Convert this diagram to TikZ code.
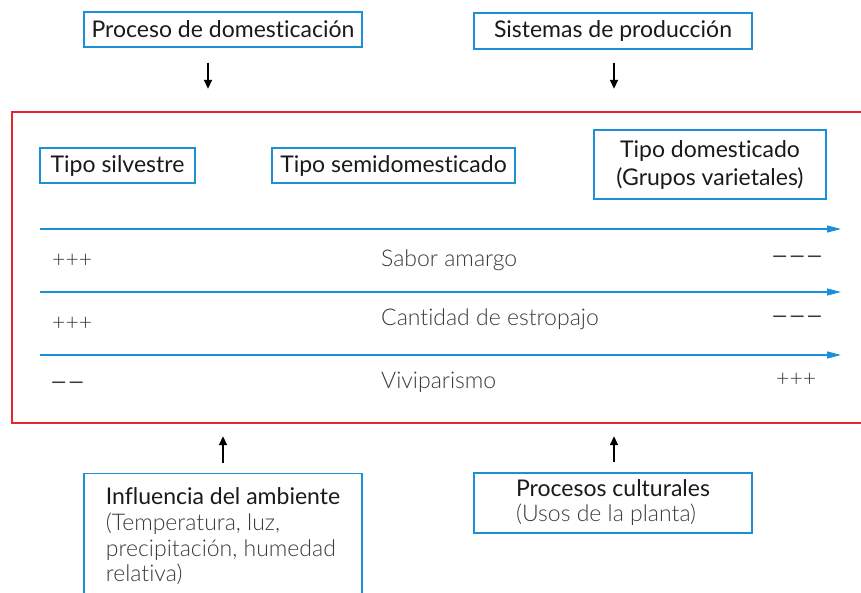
\documentclass[tikz,border=0pt]{standalone}
\usepackage{fontspec}
\setmainfont{Lato}[Ligatures={NoCommon}]
\newfontfamily\lightfont{Lato Light}[Ligatures={NoCommon}]
\usetikzlibrary{arrows.meta}
\definecolor{bblue}{HTML}{1C8FD9}
\definecolor{fred}{HTML}{E5262E}
\definecolor{txt}{HTML}{1A1A1A}
\definecolor{gtxt}{HTML}{3A3A3A}
\newcommand{\hfont}{\fontsize{23}{28}\selectfont}
\newcommand{\lfont}{\lightfont\fontsize{23}{25.7}\selectfont}
\newcommand{\lm}{\scalebox{1.3}[1]{\normalfont\fontsize{23}{25}\selectfont −}}
\begin{document}
\begin{tikzpicture}[x=1pt,y=-1pt,
  bbox/.style={draw=bblue, line width=1.3pt, inner sep=0pt, font=\hfont, text=txt},
  garrow/.style={draw=bblue, line width=1.3pt, -{Triangle[length=14pt,width=7pt]}},
  karrow/.style={draw=black, line width=1.8pt, -{Triangle[length=9pt,width=8pt]}},
  rowtxt/.style={anchor=base west, font=\lfont, text=gtxt, inner sep=0pt},
]
\useasboundingbox (0,0) rectangle (861,592);
\clip (0,0) rectangle (861,592);
% top boxes
\node[bbox, minimum width=278pt, minimum height=35pt] (proc) at (223,29.5) {Proceso de domesticación};
\node[bbox, minimum width=278pt, minimum height=36pt] (sist) at (613,31) {Sistemas de producción};
% frame
\node[inner sep=0pt, minimum width=868pt, minimum height=311pt] (frame) at (446,267.5) {};
\draw[fred, line width=1.5pt] (frame.north east) -- (frame.north west) -- (frame.south west) -- (frame.south east);
% arrows into frame
\draw[karrow, shorten <=15pt, shorten >=23pt] ([xshift=-15pt]proc.south) -- ([xshift=-15pt]proc.south |- frame.north);
\draw[karrow, shorten <=13pt, shorten >=23pt] ([xshift=1pt]sist.south) -- ([xshift=1pt]sist.south |- frame.north);
% type boxes
\node[bbox, minimum width=155pt, minimum height=35pt] (silv) at (117.5,165.5) {Tipo silvestre};
\node[bbox, minimum width=243pt, minimum height=35pt] (semi) at (393.5,165.5) {Tipo semidomesticado};
\node[bbox, minimum width=232pt, minimum height=69pt, align=center] (dom) at (710,164.5) {Tipo domesticado\\(Grupos varietales)};
% gradient arrows
\coordinate (a1s) at (40,229); \coordinate (a1e) at (841,229);
\coordinate (a2s) at (40,292); \coordinate (a2e) at (841,292);
\coordinate (a3s) at (40,355); \coordinate (a3e) at (841,355);
\draw[garrow] (a1s) -- (a1e);
\draw[garrow] (a2s) -- (a2e);
\draw[garrow] (a3s) -- (a3e);
% rows
\node[rowtxt] (p1) at (52,267) {+++};
\node[rowtxt] (t1) at (381,266) {Sabor amargo};
\node[rowtxt] (m1) at (771,264) {\lm\lm\lm};
\node[rowtxt] (p2) at (52,330) {+++};
\node[rowtxt] (t2) at (381,325) {Cantidad de estropajo};
\node[rowtxt] (m2) at (771,324) {\lm\lm\lm};
\node[rowtxt] (m3) at (50,390) {\lm\lm};
\node[rowtxt] (t3) at (381,388) {Viviparismo};
\node[rowtxt] (p3) at (776,386) {+++};
% bottom boxes
\node[bbox, font={\fontsize{23}{25.7}\selectfont}, minimum width=278pt, anchor=north, inner ysep=14pt, align=left] (amb) at (223,473)
  {{\color{txt}Influencia del ambiente}\\{\lfont\color{gtxt}(Temperatura, luz,}\\{\lfont\color{gtxt}precipitación, humedad}\\{\lfont\color{gtxt}relativa)}};
\node[bbox, font={\fontsize{23}{25}\selectfont}, minimum width=278pt, minimum height=60pt, align=left] (cult) at (613,503)
  {{\color{txt}Procesos culturales}\\{\lfont\color{gtxt}(Usos de la planta)}};
\draw[karrow, shorten <=10pt, shorten >=13pt] (amb.north) -- (amb.north |- frame.south);
\draw[karrow, shorten <=10pt, shorten >=13pt] ([xshift=1pt]cult.north) -- ([xshift=1pt]cult.north |- frame.south);
\end{tikzpicture}
\end{document}
